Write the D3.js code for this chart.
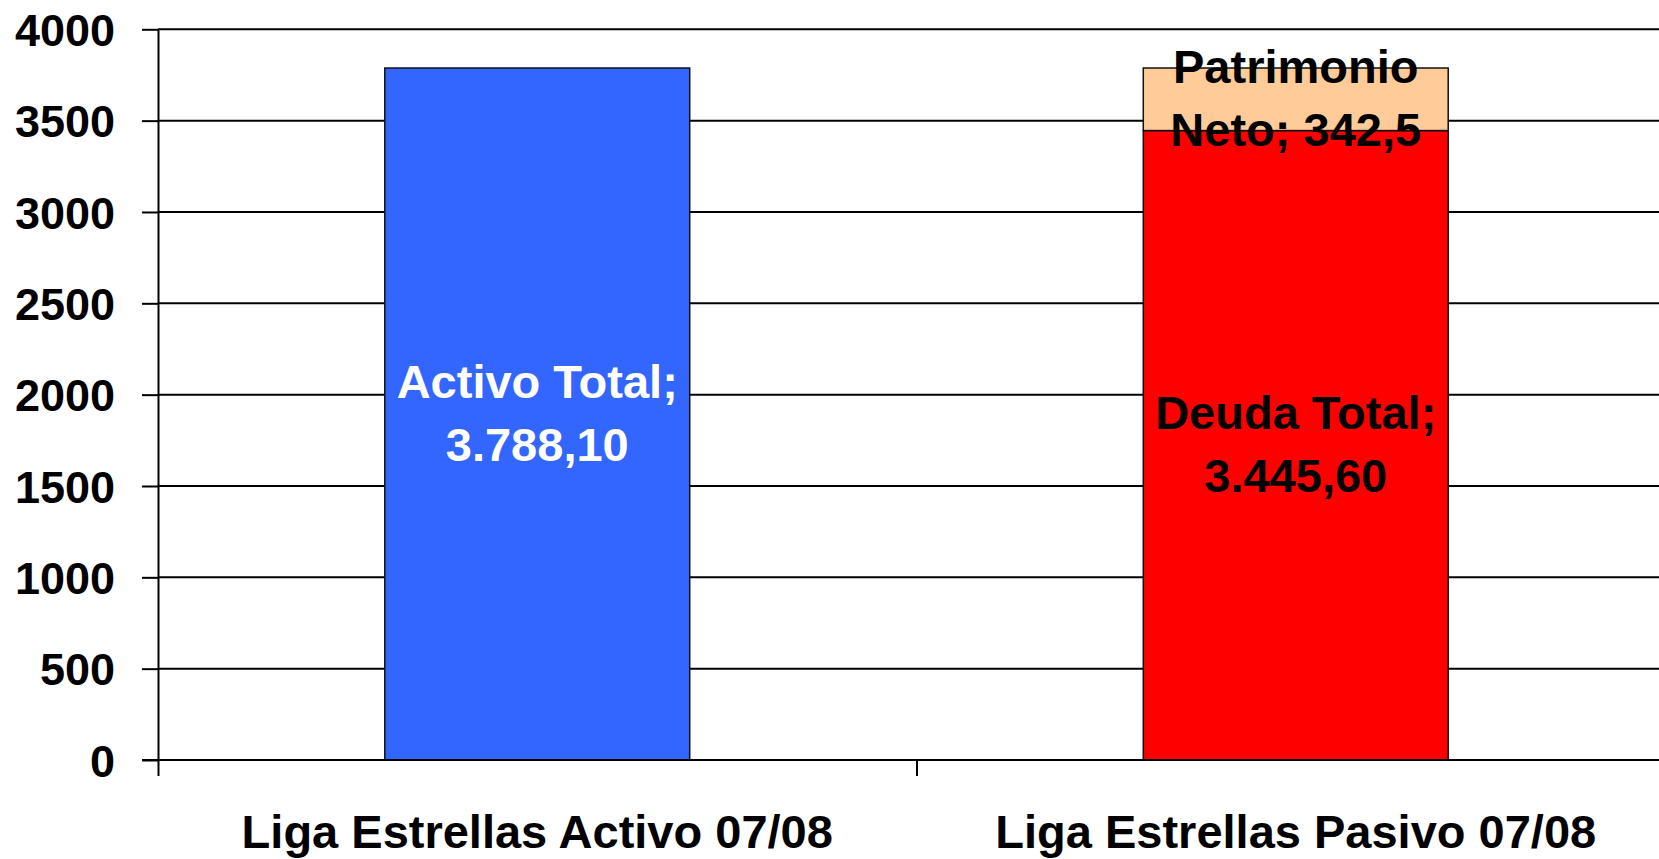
<!DOCTYPE html>
<html>
<head>
<meta charset="utf-8">
<script src="https://cdn.jsdelivr.net/npm/d3@7"></script>
<style>
  html, body { margin: 0; padding: 0; background: #fff; }
  svg { display: block; font-family: "Liberation Sans", Arial, sans-serif; font-weight: bold; }
</style>
</head>
<body>
<svg width="1659" height="859"></svg>
<script>
const categories = ["Liga Estrellas Activo 07/08", "Liga Estrellas Pasivo 07/08"];
const activoTotal = [3788.1, 0];
const deudaTotal = [0, 3445.6];
const patrimonioNeto = [0, 342.5];
const seriesNames = ["Activo Total", "Deuda Total", "Patrimonio Neto"];
const seriesLabels = [
  [["Activo Total;", "3.788,10"], null],
  [null, ["Deuda Total;", "3.445,60"]],
  [null, ["Patrimonio", "Neto; 342,5"]]
];
const yTicks = [0, 500, 1000, 1500, 2000, 2500, 3000, 3500, 4000];

const width = 1659;
const height = 859;
const margin = { top: 29.3, left: 158, bottom: 99 };
const plotRight = 1675; // plot runs past the right edge

const svg = d3.select("svg");

const y = d3.scaleLinear()
  .domain([0, 4000])
  .range([height - margin.bottom, margin.top]);

const x = d3.scaleBand()
  .domain(categories)
  .range([margin.left, plotRight])
  .paddingInner(0.598)
  .paddingOuter(0.299);

// category boundaries for x ticks
const xEdge = d3.scaleLinear()
  .domain([0, categories.length])
  .range([margin.left, plotRight]);

// gridlines
svg.append("g")
  .selectAll("line")
  .data(yTicks.filter(d => d > 0))
  .enter()
  .append("line")
  .attr("x1", margin.left)
  .attr("x2", width)
  .attr("y1", d => y(d))
  .attr("y2", d => y(d))
  .attr("stroke", "#000")
  .attr("stroke-width", 2);

// stacked data
const colors = ["#3366FF", "#FF0000", "#FFCC99"];
const textColors = ["#fff", "#000", "#000"];
const series = [activoTotal, deudaTotal, patrimonioNeto];
const segments = [];
categories.forEach((cat, i) => {
  let base = 0;
  series.forEach((s, k) => {
    if (s[i] > 0) {
      segments.push({ cat, k, y0: base, y1: base + s[i], label: seriesLabels[k][i] });
      base += s[i];
    }
  });
});

svg.append("g")
  .selectAll("rect")
  .data(segments)
  .enter()
  .append("rect")
  .attr("x", d => x(d.cat))
  .attr("width", x.bandwidth())
  .attr("y", d => y(d.y1))
  .attr("height", d => y(d.y0) - y(d.y1))
  .attr("fill", d => colors[d.k])
  .attr("stroke", "#111")
  .attr("stroke-width", 1.5);

// y axis
const yAxis = d3.axisLeft(y)
  .tickValues(yTicks)
  .tickFormat(d3.format("d"))
  .tickSizeInner(16)
  .tickSizeOuter(0)
  .tickPadding(27);
const gy = svg.append("g")
  .attr("transform", `translate(${margin.left},0)`)
  .call(yAxis);
gy.selectAll("text")
  .attr("font-size", 45)
  .attr("font-family", "Liberation Sans, Arial, sans-serif")
  .attr("font-weight", "bold")
  .attr("fill", "#000")
  .attr("dy", "0.36em");
gy.selectAll("line, path").attr("stroke", "#000").attr("stroke-width", 2);

// x axis
const xAxis = d3.axisBottom(xEdge)
  .tickValues(d3.range(categories.length + 1))
  .tickFormat("")
  .tickSizeInner(16)
  .tickSizeOuter(0);
const gx = svg.append("g")
  .attr("transform", `translate(0,${y(0)})`)
  .call(xAxis);
gx.select(".domain")
  .attr("d", `M${margin.left - 16},0H${width}`);
gx.selectAll("line, path").attr("stroke", "#000").attr("stroke-width", 2);

// category labels
svg.append("g")
  .selectAll("text")
  .data(categories)
  .enter()
  .append("text")
  .attr("x", d => x(d) + x.bandwidth() / 2)
  .attr("y", 848)
  .attr("text-anchor", "middle")
  .attr("font-size", 47)
  .attr("fill", "#000")
  .text(d => d);

// data labels
const labelGroups = svg.append("g")
  .selectAll("text")
  .data(segments.filter(d => d.label))
  .enter()
  .append("text")
  .attr("text-anchor", "middle")
  .attr("font-size", 47)
  .attr("fill", d => textColors[d.k]);
labelGroups.each(function(d) {
  const cx = x(d.cat) + x.bandwidth() / 2;
  const cy = (y(d.y0) + y(d.y1)) / 2;
  d3.select(this).selectAll("tspan")
    .data(d.label)
    .enter()
    .append("tspan")
    .attr("x", cx)
    .attr("y", (t, j) => cy - 16 + j * 63)
    .text(t => t);
});
</script>
</body>
</html>
